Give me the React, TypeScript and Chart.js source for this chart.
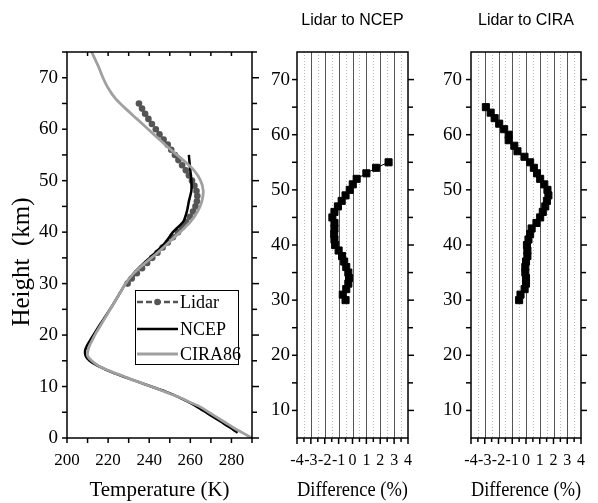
import React, { useEffect, useRef } from 'react';
import { Chart, registerables } from 'chart.js';

Chart.register(...registerables);

// ---------- Data: left panel (temperature profiles) ----------
const lidarHeights = [30, 31, 32, 33, 34, 35, 36, 37, 38, 39, 40, 41, 42, 43, 44, 45, 46, 47, 48, 49, 50, 51, 52, 53, 54, 55, 56, 57, 58, 59, 60, 61, 62, 63, 64, 65];
const lidarTemps = [229.5, 231.5, 234, 236.5, 239, 241.5, 244, 246.5, 249, 251.5, 254, 256, 258, 259.8, 261.3, 262.5, 263.2, 263.4, 263, 262, 260.8, 259.3, 257.8, 256, 254.2, 252.5, 250.7, 249, 247, 245, 243.2, 241.3, 239.6, 238, 236.5, 235];

const ncepHeights = [1, 2, 3, 4, 5, 6, 7, 8, 9, 10, 11, 12, 13, 14, 15, 16, 17, 18, 19, 20, 22, 24, 26, 28, 30, 32, 34, 36, 38, 40, 42, 44, 46, 48, 50, 52, 54, 55];
const ncepTemps = [283, 279.5, 275.5, 271.5, 267.5, 263.5, 259, 254, 248, 241, 234, 227, 220.5, 215, 211, 209, 208.8, 209.8, 211.3, 212.8, 216, 219.3, 222.5, 225.5, 228.5, 232.5, 237.5, 243, 248, 251.5, 256.5, 258.3, 259.3, 260.5, 260.5, 260, 259.5, 259.3];

const ciraHeights = [0, 1, 2, 3, 4, 5, 6, 7, 8, 9, 10, 11, 12, 13, 14, 15, 16, 17, 18, 19, 20, 22, 24, 26, 28, 30, 32, 34, 36, 38, 40, 42, 44, 46, 48, 50, 52, 54, 56, 58, 60, 62, 64, 66, 68, 70, 72, 75];
const ciraTemps = [290, 285.5, 281, 277, 273, 269, 265, 259.5, 254, 247.5, 241, 234, 227.5, 221, 215.5, 212, 210, 210.2, 211, 212.3, 213.5, 216.5, 219.5, 222.5, 225.5, 228.5, 232.5, 238, 244, 249.5, 255, 260, 263.5, 265.6, 266.3, 265, 261.8, 256.5, 250.5, 245, 239.5, 234, 228.5, 223.5, 220, 217.5, 215.5, 212];

// ---------- Data: middle panel (Lidar to NCEP, %) ----------
const ncepDiffHeights = [30, 31, 32, 33, 34, 35, 36, 37, 38, 39, 40, 41, 42, 43, 44, 45, 46, 47, 48, 49, 50, 51, 52, 53, 54, 55];
const ncepDiffValues = [-0.5, -0.7, -0.45, -0.3, -0.25, -0.3, -0.45, -0.6, -0.75, -1.0, -1.25, -1.3, -1.32, -1.3, -1.3, -1.45, -1.3, -1.05, -0.78, -0.5, -0.2, 0.02, 0.3, 1.0, 1.7, 2.6];

// ---------- Data: right panel (Lidar to CIRA, %) ----------
const ciraDiffHeights = [30, 31, 32, 33, 34, 35, 36, 37, 38, 39, 40, 41, 42, 43, 44, 45, 46, 47, 48, 49, 50, 51, 52, 53, 54, 55, 56, 57, 58, 59, 60, 61, 62, 63, 64, 65];
const ciraDiffValues = [-0.5, -0.4, -0.1, 0.0, 0.0, -0.05, -0.05, 0.0, 0.1, 0.1, 0.07, 0.18, 0.3, 0.41, 0.76, 1.03, 1.22, 1.4, 1.52, 1.63, 1.56, 1.33, 1.03, 0.8, 0.57, 0.3, -0.11, -0.62, -0.85, -1.26, -1.26, -1.59, -1.95, -2.28, -2.57, -2.92];

// ---------- Tick labels ----------
const tempTickValues = [200, 220, 240, 260, 280];
const heightTickValues = [0, 10, 20, 30, 40, 50, 60, 70];
const diffHeightTickValues = [10, 20, 30, 40, 50, 60, 70];
const diffTickValues = [-4, -3, -2, -1, 0, 1, 2, 3, 4];

// ---------- Labels ----------
const panelTitles = ['Lidar to NCEP', 'Lidar to CIRA'];
const legendLabels = ['Lidar', 'NCEP', 'CIRA86'];
const tempAxisTitle = 'Temperature (K)';
const heightAxisTitle = 'Height  (km)';
const diffAxisTitle = 'Difference (%)';

const SERIF = "'Liberation Serif', 'Times New Roman', serif";
const SANS = "'Liberation Sans', Arial, sans-serif";

const range = (a: number, b: number, s: number) => {
  const out: number[] = [];
  for (let v = a; v <= b + 1e-9; v += s) out.push(Math.round(v * 100) / 100);
  return out;
};

const fixedTicks = (vals: number[]) => (s: any) => {
  s.ticks = vals.map((v) => ({ value: v }));
};

type TickSpec = { side: 'left' | 'right' | 'top' | 'bottom'; values: number[]; len: (v: number) => number; inward?: boolean };
type GridSpec = { values: number[]; color: string; width: number; dash: number[] };

function makeDecor(id: string, ticks: TickSpec[], grids: GridSpec[], extra?: (chart: any) => void) {
  return {
    id,
    beforeDatasetsDraw(chart: any) {
      const { ctx, chartArea: a } = chart;
      const xs = chart.scales.x;
      ctx.save();
      grids.forEach((g) => {
        ctx.strokeStyle = g.color;
        ctx.lineWidth = g.width;
        ctx.setLineDash(g.dash);
        g.values.forEach((v) => {
          const px = Math.round(xs.getPixelForValue(v)) + 0.5;
          ctx.beginPath();
          ctx.moveTo(px, a.top);
          ctx.lineTo(px, a.bottom);
          ctx.stroke();
        });
      });
      ctx.restore();
    },
    afterDraw(chart: any) {
      const { ctx, chartArea: a } = chart;
      const xs = chart.scales.x;
      const ys = chart.scales.y;
      ctx.save();
      ctx.strokeStyle = '#000';
      ctx.lineWidth = 1.5;
      ctx.setLineDash([]);
      ctx.strokeRect(a.left, a.top, a.right - a.left, a.bottom - a.top);
      ticks.forEach((t) => {
        t.values.forEach((v) => {
          const L = t.len(v);
          ctx.beginPath();
          if (t.side === 'left' || t.side === 'right') {
            const py = ys.getPixelForValue(v);
            const x0 = t.side === 'left' ? a.left : a.right;
            const dir = (t.side === 'left' ? -1 : 1) * (t.inward ? -1 : 1);
            ctx.moveTo(x0, py);
            ctx.lineTo(x0 + dir * L, py);
          } else {
            const px = xs.getPixelForValue(v);
            const y0 = t.side === 'top' ? a.top : a.bottom;
            const dir = (t.side === 'top' ? -1 : 1) * (t.inward ? -1 : 1);
            ctx.moveTo(px, y0);
            ctx.lineTo(px, y0 + dir * L);
          }
          ctx.stroke();
        });
      });
      ctx.restore();
      if (extra) extra(chart);
    },
  };
}

function drawLeftExtras(chart: any) {
  const { ctx, chartArea: a } = chart;
  ctx.save();
  ctx.fillStyle = '#000';
  ctx.font = `25px ${SERIF}`;
  ctx.textAlign = 'center';
  ctx.textBaseline = 'middle';
  ctx.translate(22, a.top + 210);
  ctx.rotate(-Math.PI / 2);
  ctx.fillText(heightAxisTitle, 0, 0);
  ctx.restore();

  const bx = a.left + 68;
  const by = a.top + 238;
  const bw = 103;
  const bh = 74;
  ctx.save();
  ctx.fillStyle = '#fff';
  ctx.fillRect(bx, by, bw, bh);
  ctx.strokeStyle = '#000';
  ctx.lineWidth = 1;
  ctx.strokeRect(bx + 0.5, by + 0.5, bw, bh);
  const rows = [12, 39, 64];
  const styles = [
    { color: '#555555', width: 2.5, dash: [6, 3], dot: true },
    { color: '#000000', width: 2.5, dash: [], dot: false },
    { color: '#a0a0a0', width: 3, dash: [], dot: false },
  ];
  rows.forEach((ry, i) => {
    const s = styles[i];
    const y = by + ry;
    ctx.strokeStyle = s.color;
    ctx.lineWidth = s.width;
    ctx.setLineDash(s.dash);
    ctx.beginPath();
    ctx.moveTo(bx + 2, y);
    ctx.lineTo(bx + 43, y);
    ctx.stroke();
    ctx.setLineDash([]);
    if (s.dot) {
      ctx.fillStyle = s.color;
      ctx.beginPath();
      ctx.arc(bx + 22.5, y, 3.3, 0, Math.PI * 2);
      ctx.fill();
    }
    ctx.fillStyle = '#000';
    ctx.font = `18px ${SERIF}`;
    ctx.textAlign = 'left';
    ctx.textBaseline = 'middle';
    ctx.fillText(legendLabels[i], bx + 45, y + 1);
  });
  ctx.restore();
}

const toPoints = (xs: number[], ys: number[]) => xs.map((x, i) => ({ x, y: ys[i] }));

function tempConfig(): any {
  const decor = makeDecor(
    'decorTemp',
    [
      { side: 'left', values: range(0, 75, 5), len: () => 5 },
      { side: 'right', values: range(0, 75, 5), len: (v) => (v % 10 === 0 ? 7 : 5) },
      { side: 'bottom', values: range(200, 290, 10), len: () => 5 },
      { side: 'top', values: range(210, 280, 10), len: () => 4, inward: true },
    ],
    [],
    drawLeftExtras
  );
  return {
    type: 'scatter',
    data: {
      datasets: [
        {
          label: legendLabels[2],
          data: toPoints(ciraTemps, ciraHeights),
          showLine: true,
          borderColor: '#a0a0a0',
          borderWidth: 2.8,
          pointRadius: 0,
          tension: 0.3,
        },
        {
          label: legendLabels[1],
          data: toPoints(ncepTemps, ncepHeights),
          showLine: true,
          borderColor: '#000',
          borderWidth: 2.5,
          pointRadius: 0,
          tension: 0.2,
        },
        {
          label: legendLabels[0],
          data: toPoints(lidarTemps, lidarHeights),
          showLine: true,
          borderColor: '#555555',
          borderWidth: 2,
          borderDash: [6, 3],
          pointRadius: 3.3,
          pointBackgroundColor: '#555555',
          pointBorderWidth: 0,
        },
      ],
    },
    options: {
      responsive: false,
      animation: false,
      events: [],
      layout: { padding: { top: 52, right: 10, left: 0, bottom: 0 } },
      plugins: { legend: { display: false }, tooltip: { enabled: false }, title: { display: false } },
      scales: {
        x: {
          type: 'linear',
          min: 200,
          max: 290,
          grid: { display: false, drawTicks: false },
          border: { display: false },
          afterBuildTicks: fixedTicks(tempTickValues),
          ticks: {
            autoSkip: false,
            maxRotation: 0,
            padding: 12,
            color: '#000',
            font: { family: SERIF, size: 17 },
          },
          title: { display: true, text: tempAxisTitle, color: '#000', font: { family: SERIF, size: 21 }, padding: { top: 0, bottom: 0 } },
          afterFit: (s: any) => {
            s.height = 65;
          },
        },
        y: {
          type: 'linear',
          min: 0,
          max: 75,
          grid: { display: false, drawTicks: false },
          border: { display: false },
          afterBuildTicks: fixedTicks(heightTickValues),
          ticks: {
            autoSkip: false,
            padding: 9,
            color: '#000',
            font: { family: SERIF, size: 19 },
          },
          afterFit: (s: any) => {
            s.width = 67;
          },
        },
      },
    },
    plugins: [decor],
  };
}

function diffConfig(id: string, title: string, heights: number[], values: number[], leftW: number, rightPad: number, yPad: number): any {
  const decor = makeDecor(
    id,
    [
      { side: 'left', values: range(10, 70, 5), len: () => 5 },
      { side: 'right', values: range(10, 70, 5), len: (v) => (v % 10 === 0 ? 6 : 5) },
      { side: 'bottom', values: range(-4, 4, 0.5), len: (v) => (Number.isInteger(v) ? 6 : 4) },
    ],
    [
      { values: range(-3.5, 3.5, 1), color: '#b8b8b8', width: 1, dash: [1, 2] },
      { values: range(-3, 3, 1), color: '#555555', width: 1, dash: [] },
    ]
  );
  return {
    type: 'scatter',
    data: {
      datasets: [
        {
          label: title,
          data: toPoints(values, heights),
          showLine: true,
          borderColor: '#000',
          borderWidth: 1,
          pointStyle: 'rect',
          pointRadius: 5,
          pointBackgroundColor: '#000',
          pointBorderColor: '#000',
          pointBorderWidth: 1,
        },
      ],
    },
    options: {
      responsive: false,
      animation: false,
      events: [],
      layout: { padding: { top: 0, right: rightPad, left: 0, bottom: 0 } },
      plugins: {
        legend: { display: false },
        tooltip: { enabled: false },
        title: {
          display: true,
          text: title,
          fullSize: false,
          color: '#000',
          font: { family: SANS, size: 16, weight: 'normal' },
          padding: { top: 11, bottom: 21.8 },
        },
      },
      scales: {
        x: {
          type: 'linear',
          min: -4,
          max: 4,
          grid: { display: false, drawTicks: false },
          border: { display: false },
          afterBuildTicks: fixedTicks(diffTickValues),
          ticks: {
            autoSkip: false,
            maxRotation: 0,
            padding: 13,
            color: '#000',
            font: { family: SERIF, size: 16 },
          },
          title: { display: true, text: diffAxisTitle, color: '#000', font: { family: SERIF, size: 20 }, padding: { top: 0, bottom: 0 } },
          afterFit: (s: any) => {
            s.height = 65;
          },
        },
        y: {
          type: 'linear',
          min: 5,
          max: 75,
          grid: { display: false, drawTicks: false },
          border: { display: false },
          afterBuildTicks: fixedTicks(diffHeightTickValues),
          ticks: {
            autoSkip: false,
            padding: yPad,
            color: '#000',
            font: { family: SERIF, size: 19 },
          },
          afterFit: (s: any) => {
            s.width = leftW;
          },
        },
      },
    },
    plugins: [decor],
  };
}

export default function App() {
  const r1 = useRef<HTMLCanvasElement>(null);
  const r2 = useRef<HTMLCanvasElement>(null);
  const r3 = useRef<HTMLCanvasElement>(null);

  useEffect(() => {
    const charts: Chart[] = [];
    if (r1.current) charts.push(new Chart(r1.current, tempConfig()));
    if (r2.current) charts.push(new Chart(r2.current, diffConfig('decorNcep', panelTitles[0], ncepDiffHeights, ncepDiffValues, 35, 11, 7)));
    if (r3.current) charts.push(new Chart(r3.current, diffConfig('decorCira', panelTitles[1], ciraDiffHeights, ciraDiffValues, 46, 11, 9)));
    return () => charts.forEach((c) => c.destroy());
  }, []);

  return (
    <div style={{ position: 'absolute', left: 0, top: 0, width: 598, height: 503, background: '#fff', overflow: 'hidden' }}>
      <canvas ref={r1} width={262} height={503} style={{ position: 'absolute', left: 0, top: 0 }} />
      <canvas ref={r2} width={163} height={503} style={{ position: 'absolute', left: 262, top: 0 }} />
      <canvas ref={r3} width={173} height={503} style={{ position: 'absolute', left: 425, top: 0 }} />
    </div>
  );
}
